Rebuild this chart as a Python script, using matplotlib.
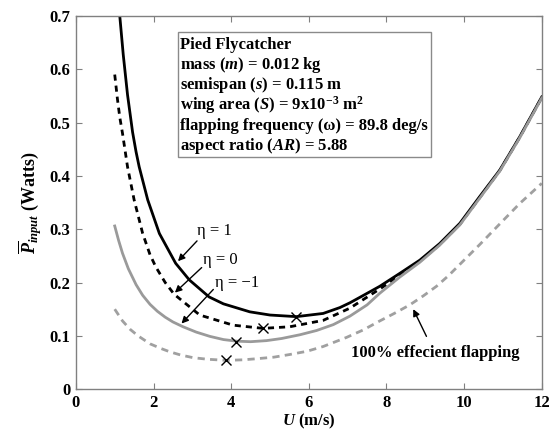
import numpy as np
import matplotlib
matplotlib.use('Agg')
import matplotlib.pyplot as plt
from matplotlib.patches import Rectangle

plt.rcParams['font.family'] = ['Liberation Serif', 'DejaVu Serif']
plt.rcParams['font.weight'] = 'bold'
plt.rcParams['mathtext.fontset'] = 'custom'
plt.rcParams['mathtext.rm'] = 'Liberation Serif:bold'
plt.rcParams['mathtext.it'] = 'Liberation Serif:italic:bold'
plt.rcParams['mathtext.bf'] = 'Liberation Serif:bold'

# eta = 1 (solid black)
u_eta1 = [1.13, 1.22, 1.33, 1.46, 1.55, 1.63, 1.85, 2.15, 2.57, 2.92, 3.43, 3.80, 4.48, 5.00, 5.68,
          6.37, 6.80, 7.06, 7.31, 7.83, 8.34, 8.86, 9.37, 9.89, 10.40, 10.92, 11.43, 12.00]
p_eta1 = [0.700, 0.627, 0.552, 0.482, 0.445, 0.417, 0.355, 0.292, 0.236, 0.205, 0.173, 0.160, 0.145, 0.139, 0.136,
          0.142, 0.153, 0.162, 0.172, 0.193, 0.217, 0.242, 0.273, 0.311, 0.361, 0.411, 0.473, 0.548]

# eta = 0 (dashed black)
u_eta0 = [1.00, 1.07, 1.13, 1.20, 1.33, 1.50, 1.72, 1.91, 2.06, 2.30, 2.53, 3.19, 4.05, 4.82, 5.51, 6.37,
          7.06, 7.83, 8.34, 8.86, 9.37, 9.89, 10.40, 10.92, 11.43, 12.00]
p_eta0 = [0.590, 0.544, 0.510, 0.480, 0.417, 0.355, 0.292, 0.252, 0.229, 0.200, 0.178, 0.139, 0.120, 0.114, 0.117, 0.129,
          0.152, 0.188, 0.213, 0.240, 0.271, 0.309, 0.359, 0.410, 0.472, 0.547]

# eta = -1 (solid grey)
u_etam1 = [1.00, 1.10, 1.20, 1.35, 1.55, 1.72, 1.91, 2.10, 2.30, 2.50, 2.76, 3.10, 3.45, 3.80, 4.14, 4.50,
           4.91, 5.30, 5.77, 6.20, 6.63, 7.06, 7.50, 7.83, 8.34, 8.86, 9.37, 9.89, 10.40, 10.92, 11.43, 12.00]
p_etam1 = [0.306, 0.279, 0.255, 0.226, 0.196, 0.176, 0.159, 0.146, 0.135, 0.126, 0.117, 0.107, 0.099, 0.093, 0.090, 0.089,
           0.091, 0.095, 0.102, 0.110, 0.121, 0.137, 0.158, 0.180, 0.210, 0.238, 0.270, 0.308, 0.358, 0.409, 0.471, 0.546]

# 100% efficient flapping (dashed grey)
u_ideal = [1.00, 1.20, 1.40, 1.60, 1.91, 2.20, 2.42, 2.70, 3.02, 3.40, 3.88, 4.30, 4.65, 5.10, 5.51, 5.95,
           6.37, 6.97, 7.40, 7.83, 8.20, 8.60, 8.95, 9.29, 9.60, 9.89, 10.40, 10.92, 11.43, 12.00]
p_ideal = [0.150, 0.128, 0.112, 0.100, 0.085, 0.076, 0.070, 0.064, 0.059, 0.056, 0.054, 0.055, 0.057, 0.060, 0.065, 0.071,
           0.080, 0.097, 0.111, 0.128, 0.142, 0.158, 0.175, 0.193, 0.213, 0.234, 0.271, 0.310, 0.348, 0.386]

# minimum power points
u_min = [5.68, 4.82, 4.12, 3.87]
p_min = [0.136, 0.114, 0.088, 0.054]

info_lines = [
    'Pied Flycatcher',
    'mass ($m$) = 0.012 kg',
    'semispan ($s$) = 0.115 m',
    'wing area ($S$) = 9x10$^{-3}$ m$^{2}$',
    'flapping frequency (\u03c9) = 89.8 deg/s',
    'aspect ratio ($AR$) = 5.88',
]

fig = plt.figure(figsize=(5.5, 4.3), dpi=100)
ax = fig.add_axes([0.138, 0.095, 0.847, 0.868])

ax.plot(u_eta1, p_eta1, '-', color='black', lw=2.0)
l0, = ax.plot(u_eta0, p_eta0, '--', color='black', lw=2.0)
l0.set_dashes((2.2, 1.8))
ax.plot(u_etam1, p_etam1, '-', color='#9a9a9a', lw=2.0)
l3, = ax.plot(u_ideal, p_ideal, '--', color='#a0a0a0', lw=2.0)
l3.set_dashes((2.6, 1.9))
ax.plot(u_min, p_min, 'x', color='black', ms=7, mew=1.0, zorder=5)

ax.set_xlim(0, 12)
ax.set_ylim(0, 0.7)
ax.set_xticks(np.arange(0, 13, 2))
ax.set_yticks(np.arange(0, 0.71, 0.1))
ax.set_xticklabels([str(v) for v in range(0, 13, 2)])
ax.set_yticklabels(['0'] + ['%.1f' % v for v in np.arange(0.1, 0.71, 0.1)])
ax.tick_params(direction='in', length=4, top=True, right=True, color='#808080',
               labelsize=12)
ax.tick_params(axis='x', pad=4)
ax.tick_params(axis='y', pad=4)
for s in ax.spines.values():
    s.set_color('#808080')
    s.set_linewidth(1.0)

ax.set_xlabel('$U$ (m/s)', fontsize=12, fontweight='bold', labelpad=1)
ax.set_ylabel('$\\overline{P}_{input}$ (Watts)', fontsize=13, fontweight='bold', labelpad=4)

# info box
ax.add_patch(Rectangle((2.63, 0.435), 6.51, 0.235, fill=True, facecolor='white',
                       edgecolor='#8a8a8a', lw=1.0, zorder=3))
ys = [0.645, 0.607, 0.570, 0.532, 0.494, 0.456]
for txt, y in zip(info_lines, ys):
    ax.text(2.69, y, txt, fontsize=12, ha='left', va='center', zorder=4)

arrow_kw = dict(arrowstyle='-|>', color='black', lw=1.0, mutation_scale=10,
                shrinkA=0, shrinkB=0)
ax.text(3.12, 0.297, '\u03b7 = 1', fontsize=12, fontweight='normal', ha='left', va='center')
ax.annotate('', xy=(2.63, 0.240), xytext=(3.12, 0.278), arrowprops=arrow_kw)
ax.text(3.27, 0.242, '\u03b7 = 0', fontsize=12, fontweight='normal', ha='left', va='center')
ax.annotate('', xy=(2.55, 0.181), xytext=(3.24, 0.228), arrowprops=arrow_kw)
ax.text(3.58, 0.199, '\u03b7 = \u22121', fontsize=12, fontweight='normal', ha='left', va='center')
ax.annotate('', xy=(2.72, 0.123), xytext=(3.54, 0.187), arrowprops=arrow_kw)

ax.text(9.25, 0.068, '100% effecient flapping', fontsize=12, ha='center', va='center')
ax.annotate('', xy=(8.69, 0.150), xytext=(9.03, 0.099), arrowprops=arrow_kw)

fig.savefig('out.png', dpi=100)
